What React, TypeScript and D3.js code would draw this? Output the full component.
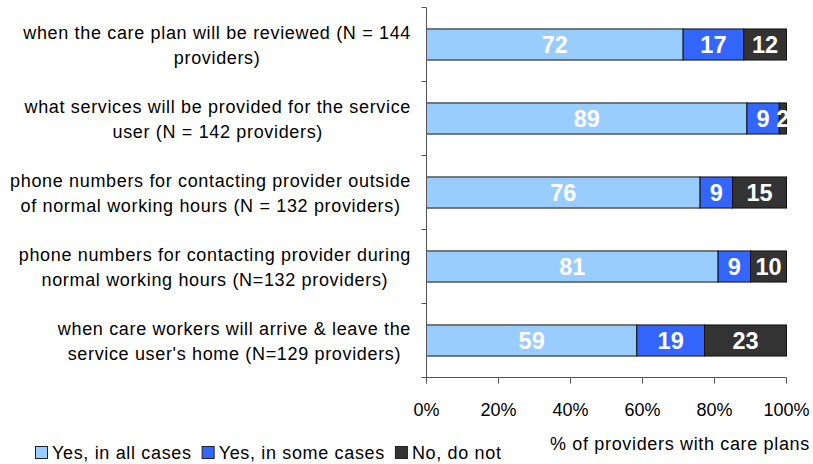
import React from "react";
import * as d3 from "d3";

const categories: string[][] = [
  ["when the care plan will be reviewed (N = 144", "providers)"],
  ["what services will be provided for the service", "user (N = 142 providers)"],
  ["phone numbers for contacting provider outside", "of normal working hours (N = 132 providers)"],
  ["phone numbers for contacting provider during", "normal working hours (N=132 providers)"],
  ["when care workers will arrive & leave the", "service user's home (N=129 providers)"],
];
const yesAll = [72, 89, 76, 81, 59];
const yesSome = [17, 9, 9, 9, 19];
const noDoNot = [12, 2, 15, 10, 23];
const seriesNames = ["Yes, in all cases", "Yes, in some cases", "No, do not"];
const seriesColors = ["#99CCFF", "#3366FF", "#333333"];
const xTicks = [0, 20, 40, 60, 80, 100];
const xTitle = "% of providers with care plans";

const FONT = "Liberation Sans, Arial, Helvetica, sans-serif";
const FS = 18;
const LS = 0.66;

let ctx: CanvasRenderingContext2D | null = null;
function measure(text: string, size = FS, ls = LS) {
  if (!ctx) ctx = document.createElement("canvas").getContext("2d");
  if (!ctx) return text.length * size * 0.5;
  ctx.font = `normal ${size}px "Liberation Sans", Arial, sans-serif`;
  return ctx.measureText(text).width + ls * text.length;
}

export default function App() {
  const W = 813, H = 464;
  const x0 = 426.5, x1 = 786.5, yTop = 7.5, yBot = 377.5;
  const x = d3.scaleLinear().domain([0, 100]).range([x0, x1]);
  const idx = categories.map((_, i) => String(i));
  const y = d3.scaleBand().domain(idx).range([yTop, yBot]).paddingInner(0.58).paddingOuter(0.29);
  const bandStep = y.step();

  const rows = categories.map((_, i) => {
    const vals = [yesAll[i], yesSome[i], noDoNot[i]];
    const total = d3.sum(vals);
    let acc = 0;
    return vals.map((v, k) => {
      const s = acc;
      acc += (v / total) * 100;
      return { v, s, e: acc, k };
    });
  });

  let lx = 35;
  const legend = seriesNames.map((n, k) => {
    const item = { n, k, sx: lx, tx: lx + 17 };
    lx = lx + 17 + measure(n) + 10;
    return item;
  });

  return (
    <svg width={W} height={H} style={{ position: "absolute", left: 0, top: 0 }} fontFamily={FONT}>
      <rect width={W} height={H} fill="#fff" />
      {categories.map((lines, i) => {
        const cy = (y(String(i)) as number) + y.bandwidth() / 2;
        const maxW = d3.max(lines, (l) => measure(l)) as number;
        const cx = 411 - maxW / 2;
        return (
          <text key={i} textAnchor="middle" fontSize={FS} letterSpacing={LS} fill="#000">
            {lines.map((l, j) => (
              <tspan key={j} x={cx} y={cy + (j - (lines.length - 1) / 2) * 25 + 6.5}>
                {l}
              </tspan>
            ))}
          </text>
        );
      })}
      {rows.map((segs, i) =>
        segs.map((sg) => {
          const by = y(String(i)) as number;
          const bx = x(sg.s), bw = x(sg.e) - x(sg.s);
          return (
            <g key={`${i}-${sg.k}`}>
              <rect x={bx} y={by} width={bw} height={y.bandwidth()} fill={seriesColors[sg.k]} stroke="#111" strokeWidth={1} />
              <text x={bx + bw / 2} y={by + y.bandwidth() / 2 + 8.5} textAnchor="middle" fontSize={23.5} fontWeight="bold" fill="#fff">
                {sg.v}
              </text>
            </g>
          );
        })
      )}
      <line x1={x0} x2={x0} y1={yTop} y2={yBot + 6} stroke="#555" strokeWidth={1} />
      {d3.range(categories.length + 1).map((j) => (
        <line key={j} x1={x0 - 5} x2={x0} y1={yTop + j * bandStep} y2={yTop + j * bandStep} stroke="#555" strokeWidth={1} />
      ))}
      <line x1={x0 - 5} x2={x1} y1={yBot} y2={yBot} stroke="#555" strokeWidth={1} />
      {xTicks.map((t) => (
        <g key={t}>
          <line x1={x(t)} x2={x(t)} y1={yBot} y2={yBot + 6} stroke="#555" strokeWidth={1} />
          <text x={x(t)} y={416} textAnchor="middle" fontSize={18} fill="#000">
            {t}%
          </text>
        </g>
      ))}
      <text x={680} y={450} textAnchor="middle" fontSize={FS} letterSpacing={LS} fill="#000">
        {xTitle}
      </text>
      {legend.map((it) => (
        <g key={it.k}>
          <rect x={it.sx + 0.5} y={446.5} width={12} height={12} fill={seriesColors[it.k]} stroke="#222" strokeWidth={1} />
          <text x={it.tx} y={459} fontSize={FS} letterSpacing={LS} fill="#000">
            {it.n}
          </text>
        </g>
      ))}
    </svg>
  );
}
